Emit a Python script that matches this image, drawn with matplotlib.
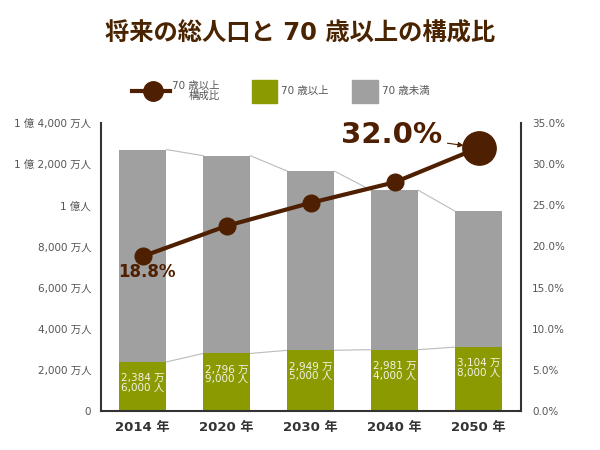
import matplotlib
matplotlib.use("Agg")
import matplotlib.pyplot as plt
from matplotlib.patches import Rectangle
from matplotlib.lines import Line2D
import numpy as np

# 数字は Verdana 風の DejaVu、漢字は Noto CJK
plt.rcParams['font.family'] = ['DejaVu Sans', 'Noto Sans CJK JP']

# データ (万人)
years = ['2014 年', '2020 年', '2030 年', '2040 年', '2050 年']
total = [12708, 12410, 11662, 10728, 9708]
over70 = [2384.6, 2796.9, 2949.5, 2981.4, 3104.8]
ratio = [18.8, 22.5, 25.3, 27.8, 32.0]
over70_labels = ['2,384 万\n6,000 人', '2,796 万\n9,000 人', '2,949 万\n5,000 人',
                 '2,981 万\n4,000 人', '3,104 万\n8,000 人']
left_ticks = [0, 2000, 4000, 6000, 8000, 10000, 12000, 14000]
left_tick_labels = ['0', '2,000 万人', '4,000 万人', '6,000 万人', '8,000 万人',
                    '1 億人', '1 億 2,000 万人', '1 億 4,000 万人']
right_ticks = [0, 5, 10, 15, 20, 25, 30, 35]

BROWN = '#4e1f00'
GREEN = '#8a9a00'
GRAY = '#a0a0a0'
TXT = '#555555'

fig = plt.figure(figsize=(6, 4.5), dpi=100)
ax = fig.add_axes([0.168, 0.0867, 0.70, 0.64])

x = np.arange(len(years))
w = 0.56
under70 = [t - o for t, o in zip(total, over70)]
ax.bar(x, over70, w, color=GREEN, zorder=2)
ax.bar(x, under70, w, bottom=over70, color=GRAY, zorder=2)

# 棒の間をつなぐ細線
for i in range(len(x) - 1):
    ax.plot([x[i] + w / 2, x[i + 1] - w / 2], [total[i], total[i + 1]],
            color='#bbbbbb', lw=0.8, zorder=1)
    ax.plot([x[i] + w / 2, x[i + 1] - w / 2], [over70[i], over70[i + 1]],
            color='#bbbbbb', lw=0.8, zorder=1)

for i, lab in enumerate(over70_labels):
    ax.annotate(lab, (x[i], over70[i]), xytext=(0, -8), textcoords='offset points',
                ha='center', va='top', fontsize=7.5, color='#f4f4e8', linespacing=0.95,
                zorder=3)

ax.set_xlim(-0.5, len(years) - 0.5)
ax.set_ylim(0, 14000)
ax.set_yticks(left_ticks)
ax.set_yticklabels(left_tick_labels)
ax.set_xticks(x)
ax.set_xticklabels(years, fontweight='bold', fontsize=9.5, color='#333333')
ax.tick_params(axis='y', length=0, pad=7, labelsize=7.5, labelcolor=TXT)
ax.tick_params(axis='x', length=0, pad=7)
for s in ['top', 'right']:
    ax.spines[s].set_visible(False)
for s in ['left', 'bottom']:
    ax.spines[s].set_color('#333333')
    ax.spines[s].set_linewidth(1.5)

ax2 = ax.twinx()
ax2.set_ylim(0, 35)
ax2.set_yticks(right_ticks)
ax2.set_yticklabels([f'{v:.1f}%' for v in right_ticks])
ax2.tick_params(axis='y', length=0, pad=8, labelsize=7.5, labelcolor=TXT)
for s in ['top', 'left', 'bottom']:
    ax2.spines[s].set_visible(False)
ax2.spines['right'].set_color('#333333')
ax2.spines['right'].set_linewidth(1.5)

ax2.plot(x, ratio, color=BROWN, lw=3, zorder=4)
ax2.plot(x[:-1], ratio[:-1], 'o', color=BROWN, ms=12, zorder=5)
ax2.plot(x[-1], ratio[-1], 'o', color=BROWN, ms=24, zorder=5)

ax2.annotate(f'{ratio[0]:.1f}%', (x[0], ratio[0]), xytext=(3, -11),
             textcoords='offset points', ha='center', va='center',
             fontsize=12, fontweight='bold', color=BROWN, zorder=6)
ax2.annotate(f'{ratio[-1]:.1f}%', (x[-1], ratio[-1]), xytext=(-63, 9),
             textcoords='offset points', ha='center', va='center',
             fontsize=21, fontweight='bold', color=BROWN, zorder=6,
             arrowprops=dict(arrowstyle='-|>', color=BROWN, lw=0.8,
                             shrinkA=2, shrinkB=11, mutation_scale=8))

# タイトル
fig.text(0.5, 1 - 34 / 450, '将来の総人口と 70 歳以上の構成比', ha='center', va='center',
         fontsize=17.5, fontweight='bold', color='#4a2400')

# 凡例
fig.add_artist(Line2D([132 / 600, 170 / 600], [1 - 91 / 450] * 2, color=BROWN, lw=3))
fig.add_artist(Line2D([153 / 600], [1 - 91 / 450], marker='o', ms=14, color=BROWN))
fig.text(220 / 600, 1 - 91 / 450, '70 歳以上\n構成比', ha='right', va='center',
         fontsize=7.5, color=TXT, linespacing=1.0, multialignment='right')
fig.add_artist(Rectangle((252 / 600, 1 - 103 / 450), 25 / 600, 23 / 450,
                         color=GREEN, transform=fig.transFigure))
fig.text(281 / 600, 1 - 91 / 450, '70 歳以上', ha='left', va='center',
         fontsize=7.5, color=TXT)
fig.add_artist(Rectangle((352 / 600, 1 - 103 / 450), 26 / 600, 23 / 450,
                         color=GRAY, transform=fig.transFigure))
fig.text(382 / 600, 1 - 91 / 450, '70 歳未満', ha='left', va='center',
         fontsize=7.5, color=TXT)

fig.savefig('out.png', dpi=100)
